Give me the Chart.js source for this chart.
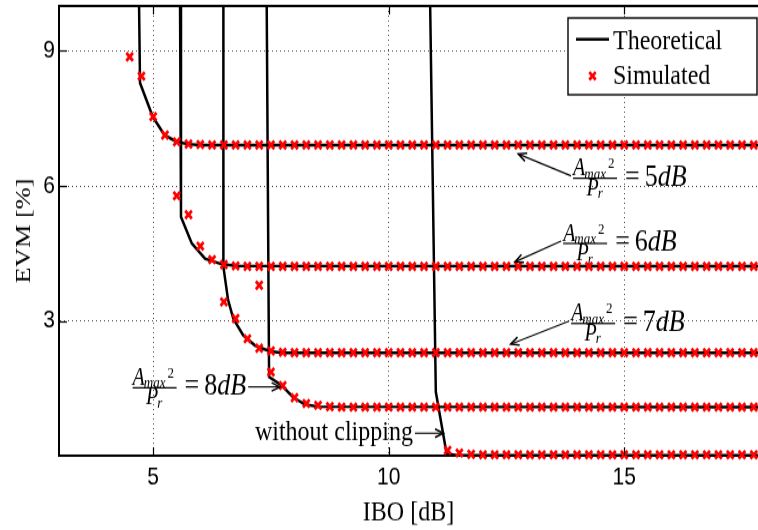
<!DOCTYPE html>
<html><head><meta charset="utf-8">
<script src="https://cdn.jsdelivr.net/npm/chart.js@4/dist/chart.umd.min.js"></script>
<style>
html,body{margin:0;padding:0;background:#fff;}
#wrap{width:758px;height:530px;overflow:hidden;background:#fff;}
#c{display:block;transform:scaleY(1.1991);transform-origin:0 0;}
</style>
</head><body><div id="wrap"><canvas id="c" width="758" height="442"></canvas></div>
<script>
// ---- tick labels ----
const xTicks = [5, 10, 15];
const yTicks = [3, 6, 9];

// ---- simulated IBO grid (dB) ----
const ibo = [
  4.5, 4.75, 5, 5.25, 5.5, 5.75, 6, 6.25, 6.5, 6.75,
  7, 7.25, 7.5, 7.75, 8, 8.25, 8.5, 8.75, 9, 9.25,
  9.5, 9.75, 10, 10.25, 10.5, 10.75, 11, 11.25, 11.5, 11.75,
  12, 12.25, 12.5, 12.75, 13, 13.25, 13.5, 13.75, 14, 14.25,
  14.5, 14.75, 15, 15.25, 15.5, 15.75, 16, 16.25, 16.5, 16.75,
  17, 17.25, 17.5, 17.75
];
// simulated EVM [%]
const sim5dB = [
  8.87, 8.44, 7.54, 7.13, 6.98, 6.93, 6.92, 6.91, 6.91, 6.91,
  6.91, 6.91, 6.91, 6.91, 6.91, 6.91, 6.91, 6.91, 6.91, 6.91,
  6.91, 6.91, 6.91, 6.91, 6.91, 6.91, 6.91, 6.91, 6.91, 6.91,
  6.91, 6.91, 6.91, 6.91, 6.91, 6.91, 6.91, 6.91, 6.91, 6.91,
  6.91, 6.91, 6.91, 6.91, 6.91, 6.91, 6.91, 6.91, 6.91, 6.91,
  6.91, 6.91, 6.91, 6.91
];
const sim6dB = [
  null, null, null, null, 5.78, 5.36, 4.66, 4.36, 4.25, 4.22,
  4.21, 4.21, 4.21, 4.21, 4.21, 4.21, 4.21, 4.21, 4.21, 4.21,
  4.21, 4.21, 4.21, 4.21, 4.21, 4.21, 4.21, 4.21, 4.21, 4.21,
  4.21, 4.21, 4.21, 4.21, 4.21, 4.21, 4.21, 4.21, 4.21, 4.21,
  4.21, 4.21, 4.21, 4.21, 4.21, 4.21, 4.21, 4.21, 4.21, 4.21,
  4.21, 4.21, 4.21, 4.21
];
const sim7dB = [
  null, null, null, null, null, null, null, null, 3.42, 3.05,
  2.60, 2.39, 2.33, 2.30, 2.29, 2.29, 2.29, 2.29, 2.29, 2.29,
  2.29, 2.29, 2.29, 2.29, 2.29, 2.29, 2.29, 2.29, 2.29, 2.29,
  2.29, 2.29, 2.29, 2.29, 2.29, 2.29, 2.29, 2.29, 2.29, 2.29,
  2.29, 2.29, 2.29, 2.29, 2.29, 2.29, 2.29, 2.29, 2.29, 2.29,
  2.29, 2.29, 2.29, 2.29
];
const sim8dB = [
  null, null, null, null, null, null, null, null, null, null,
  null, 3.79, 1.86, 1.56, 1.29, 1.16, 1.12, 1.09, 1.08, 1.08,
  1.08, 1.08, 1.08, 1.08, 1.08, 1.08, 1.08, 1.08, 1.08, 1.08,
  1.08, 1.08, 1.08, 1.08, 1.08, 1.08, 1.08, 1.08, 1.08, 1.08,
  1.08, 1.08, 1.08, 1.08, 1.08, 1.08, 1.08, 1.08, 1.08, 1.08,
  1.08, 1.08, 1.08, 1.08
];
const simNoClip = [
  null, null, null, null, null, null, null, null, null, null,
  null, null, null, null, null, null, null, null, null, null,
  null, null, null, null, null, null, null, 0.12, 0.06, 0.03,
  0.02, 0.02, 0.02, 0.02, 0.02, 0.02, 0.02, 0.02, 0.02, 0.02,
  0.02, 0.02, 0.02, 0.02, 0.02, 0.02, 0.02, 0.02, 0.02, 0.02,
  0.02, 0.02, 0.02, 0.02
];

// ---- theoretical curves ----
const th5x = [4.70, 4.72, 4.99, 5.24, 5.50, 5.73, 6.00, 18];
const th5y = [10, 8.29, 7.54, 7.13, 6.98, 6.93, 6.91, 6.91];
const th6x = [5.57, 5.59, 5.82, 6.10, 6.42, 6.75, 18];
const th6y = [10, 5.31, 4.72, 4.38, 4.27, 4.22, 4.21];
const th7x = [6.49, 6.49, 6.59, 6.70, 6.91, 7.16, 7.48, 7.75, 18];
const th7y = [10, 4.20, 3.46, 3.05, 2.68, 2.45, 2.32, 2.29, 2.29];
const th8x = [7.41, 7.46, 7.73, 7.97, 8.22, 8.50, 18];
const th8y = [10, 1.75, 1.56, 1.30, 1.14, 1.09, 1.08];
const th0x = [10.88, 11.00, 11.23, 11.45, 18];
const th0y = [10, 1.42, 0.04, 0.01, 0.01];

const ratioValues = ['5', '6', '7', '8'];

// ---- build datasets ----
const RED = '#ff0000';
const datasets = [];
[sim5dB, sim6dB, sim7dB, sim8dB, simNoClip].forEach(s => {
  const pts = [];
  ibo.forEach((x, i) => { if (s[i] !== null) pts.push({x: x, y: s[i]}); });
  datasets.push({
    label: 'Simulated', data: pts, showLine: false,
    pointStyle: 'crossRot', pointRadius: 4.7, pointBorderWidth: 2.7,
    borderColor: RED, backgroundColor: RED, order: 0, clip: false
  });
});
[[th5x, th5y], [th6x, th6y], [th7x, th7y], [th8x, th8y], [th0x, th0y]].forEach(([xs, ys]) => {
  datasets.push({
    label: 'Theoretical', data: xs.map((x, i) => ({x: x, y: ys[i]})), showLine: true,
    borderColor: '#000', borderWidth: 2.5, pointRadius: 0, tension: 0, order: 1, clip: false
  });
});

// ---- annotation placement (data coordinates) ----
const notes = [
  {v: ratioValues[0], fx: 14.38, fy: 6.17, head: [12.75, 6.71], side: 'left'},
  {v: ratioValues[1], fx: 14.17, fy: 4.72, head: [12.68, 4.31], side: 'left'},
  {v: ratioValues[2], fx: 14.34, fy: 2.94, head: [12.59, 2.48], side: 'left'},
  {v: ratioValues[3], fx: 5.03, fy: 1.51, head: [7.69, 1.53], side: 'right'}
];
const noClipNote = {text: 'without clipping', fx: 7.16, fy: 0.34, head: [11.16, 0.50]};

const SERIF = '"Liberation Serif", "Times New Roman", serif';

function arrow(ctx, x1, y1, x2, y2) {
  ctx.save();
  ctx.strokeStyle = '#000'; ctx.lineWidth = 1.1;
  ctx.beginPath(); ctx.moveTo(x1, y1); ctx.lineTo(x2, y2); ctx.stroke();
  const ang = Math.atan2(y2 - y1, x2 - x1);
  const L = 9, s = 0.4;
  ctx.lineWidth = 1.5;
  ctx.beginPath();
  ctx.moveTo(x2 - L * Math.cos(ang - s), y2 - L * Math.sin(ang - s));
  ctx.lineTo(x2, y2);
  ctx.lineTo(x2 - L * Math.cos(ang + s), y2 - L * Math.sin(ang + s));
  ctx.stroke();
  ctx.restore();
}

function drawRatio(ctx, cx, by, val) {
  ctx.save();
  ctx.fillStyle = '#000';
  ctx.textAlign = 'left';
  ctx.textBaseline = 'alphabetic';
  const fA = 'italic 20px ' + SERIF;
  const fSub = 'italic 13px ' + SERIF;
  const fSup = '13px ' + SERIF;
  const barW = 44;
  const left = cx - barW / 2;
  ctx.font = fA; const wA = ctx.measureText('A').width;
  ctx.font = fSub; const wM = ctx.measureText('max').width;
  const nb = by - 2.5;
  ctx.font = fA; ctx.fillText('A', left, nb);
  ctx.font = fSub; ctx.fillText('max', left + wA - 1, nb + 2.5);
  ctx.font = fSup; ctx.fillText('2', left + wA + wM + 1, nb - 6);
  ctx.fillRect(left, by - 0.6, barW, 1.2);
  ctx.font = fA; const wP = ctx.measureText('P').width;
  const db = by + 14;
  const pl = cx - (wP + 5) / 2;
  ctx.fillText('P', pl, db);
  ctx.font = fSub; ctx.fillText('r', pl + wP - 1, db + 2.5);
  let tx = left + barW + 8;
  const vb = by + 6;
  ctx.font = '26px ' + SERIF;
  ctx.fillText('=', tx, vb); tx += ctx.measureText('=').width + 5;
  ctx.fillText(val, tx, vb); tx += ctx.measureText(val).width;
  ctx.font = 'italic 26px ' + SERIF;
  ctx.fillText('dB', tx, vb); tx += ctx.measureText('dB').width;
  ctx.restore();
  return {left: left, right: tx};
}

const decor = {
  id: 'decor',
  beforeDraw(chart) {
    const ctx = chart.ctx;
    ctx.save(); ctx.fillStyle = '#fff'; ctx.fillRect(0, 0, chart.width, chart.height); ctx.restore();
  },
  afterDraw(chart) {
    const {ctx, chartArea: a} = chart;
    const xs = chart.scales.x, ys = chart.scales.y;
    ctx.save();
    // top border
    ctx.strokeStyle = '#000'; ctx.lineWidth = 2;
    ctx.beginPath(); ctx.moveTo(a.left - 1, a.top); ctx.lineTo(a.right, a.top); ctx.stroke();
    // inward ticks
    ctx.lineWidth = 1.2;
    xTicks.forEach(v => {
      const px = Math.round(xs.getPixelForValue(v)) + 0.5;
      ctx.beginPath(); ctx.moveTo(px, a.bottom); ctx.lineTo(px, a.bottom - 7); ctx.stroke();
      ctx.beginPath(); ctx.moveTo(px, a.top); ctx.lineTo(px, a.top + 7); ctx.stroke();
    });
    yTicks.forEach(v => {
      const py = Math.round(ys.getPixelForValue(v)) + 0.5;
      ctx.beginPath(); ctx.moveTo(a.left, py); ctx.lineTo(a.left + 8, py); ctx.stroke();
    });
    ctx.restore();

    // ratio annotations
    notes.forEach(n => {
      const cx = xs.getPixelForValue(n.fx), by = ys.getPixelForValue(n.fy);
      const r = drawRatio(ctx, cx, by, n.v);
      const hx = xs.getPixelForValue(n.head[0]), hy = ys.getPixelForValue(n.head[1]);
      if (n.side === 'left') arrow(ctx, r.left - 2, by - 2, hx, hy);
      else arrow(ctx, r.right + 2, hy, hx, hy);
    });
    // without clipping
    ctx.save();
    ctx.fillStyle = '#000'; ctx.font = '24px ' + SERIF; ctx.textAlign = 'left'; ctx.textBaseline = 'alphabetic';
    const wx = xs.getPixelForValue(noClipNote.fx), wy = ys.getPixelForValue(noClipNote.fy);
    ctx.fillText(noClipNote.text, wx, wy);
    const tw = ctx.measureText(noClipNote.text).width;
    ctx.restore();
    const nhx = xs.getPixelForValue(noClipNote.head[0]), nhy = ys.getPixelForValue(noClipNote.head[1]);
    arrow(ctx, wx + tw + 2, nhy, nhx, nhy);

    // legend
    ctx.save();
    const lw = 189, lh = 64;
    const lx = a.right - lw - 1, ly = a.top + 10;
    ctx.fillStyle = '#fff'; ctx.fillRect(lx, ly, lw, lh);
    ctx.strokeStyle = '#000'; ctx.lineWidth = 1.4; ctx.strokeRect(lx, ly, lw, lh);
    ctx.lineWidth = 2.5;
    ctx.beginPath(); ctx.moveTo(lx + 8, ly + 17.75); ctx.lineTo(lx + 41, ly + 17.75); ctx.stroke();
    const mx = lx + 24.5, my = ly + 48.3, d = 3.2;
    ctx.strokeStyle = RED; ctx.lineWidth = 2.7;
    ctx.beginPath(); ctx.moveTo(mx - d, my - d); ctx.lineTo(mx + d, my + d);
    ctx.moveTo(mx - d, my + d); ctx.lineTo(mx + d, my - d); ctx.stroke();
    ctx.fillStyle = '#000'; ctx.font = '24px ' + SERIF; ctx.textBaseline = 'alphabetic'; ctx.textAlign = 'left';
    ctx.fillText('Theoretical', lx + 45, ly + 25.5);
    ctx.fillText('Simulated', lx + 45, ly + 54.5);
    ctx.restore();
  }
};

const tickFont = {family: '"Liberation Sans", Arial, Helvetica, sans-serif', size: 21};

new Chart(document.getElementById('c'), {
  type: 'scatter',
  data: {datasets: datasets},
  options: {
    responsive: false, animation: false, devicePixelRatio: 1,
    layout: {autoPadding: false, padding: {top: 5, right: 0, left: 0, bottom: 0}},
    plugins: {legend: {display: false}, tooltip: {enabled: false}},
    scales: {
      x: {
        type: 'linear', min: 3, max: 17.84,
        afterBuildTicks: s => { s.ticks = xTicks.map(v => ({value: v})); },
        afterFit: s => { s.height = 62; s.paddingLeft = 0; s.paddingRight = 0; },
        ticks: {font: tickFont, color: '#000', padding: 6, maxRotation: 0},
        grid: {color: 'rgba(0,0,0,0.7)', lineWidth: 1, drawTicks: false},
        border: {display: true, color: '#000', width: 2, dash: [1, 3]},
        title: {display: true, text: 'IBO [dB]', color: '#000', font: {family: SERIF, size: 24, lineHeight: 1}, padding: {top: 0, bottom: 2}}
      },
      y: {
        type: 'linear', min: 0, max: 10,
        afterBuildTicks: s => { s.ticks = yTicks.map(v => ({value: v})); },
        afterFit: s => { s.width = 59; s.paddingTop = 0; s.paddingBottom = 0; },
        ticks: {font: tickFont, color: '#000', padding: 4},
        grid: {color: 'rgba(0,0,0,0.7)', lineWidth: 1, drawTicks: false},
        border: {display: true, color: '#000', width: 2, dash: [1, 3]},
        title: {display: true, text: 'EVM [%]', color: '#000', font: {family: SERIF, size: 22}, padding: {top: 11, bottom: 0}}
      }
    }
  },
  plugins: [decor]
});
</script>
</body></html>
